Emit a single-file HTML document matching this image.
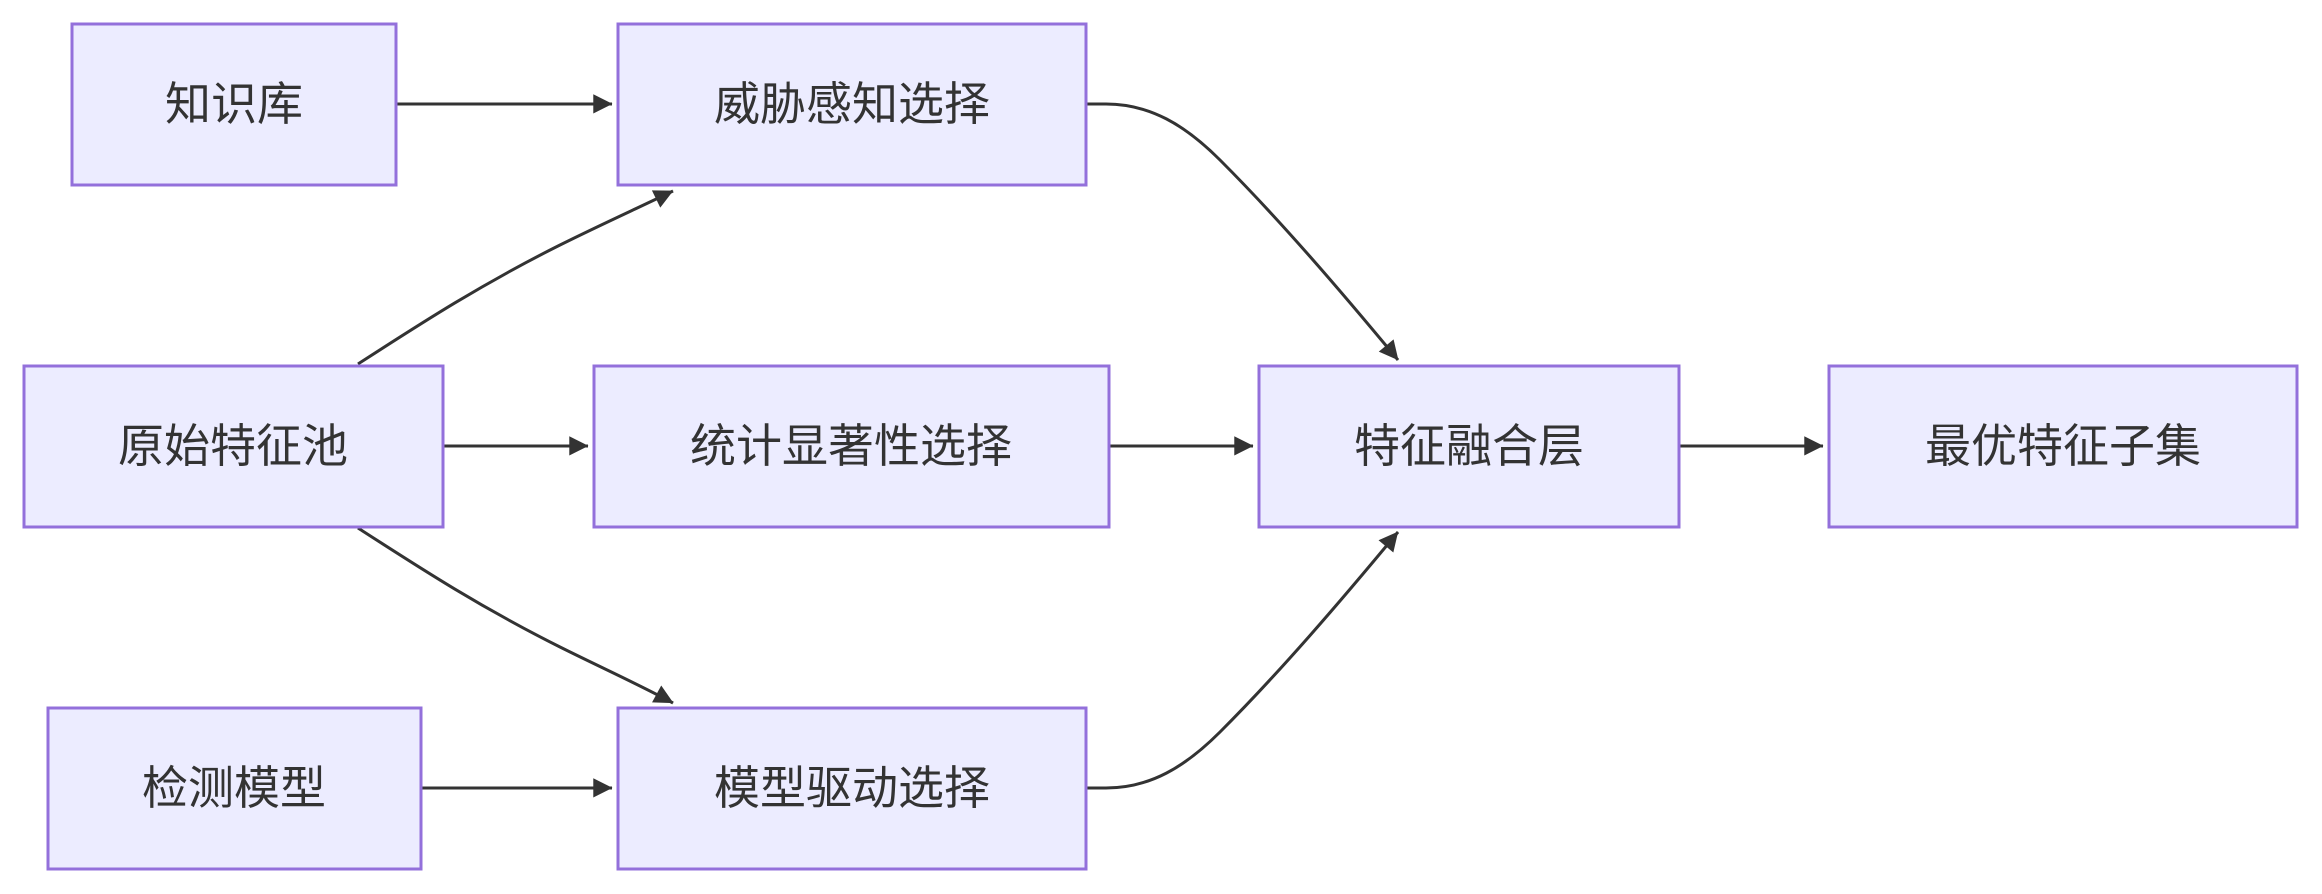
<!DOCTYPE html>
<html><head><meta charset="utf-8"><style>
html,body{margin:0;padding:0;background:#fff;width:2322px;height:894px;overflow:hidden}
text{font-family:"Liberation Sans","Noto Sans CJK SC",sans-serif;font-size:46px;fill:#333;text-anchor:middle;dominant-baseline:central}
rect{fill:#ECECFF;stroke:#9370DB;stroke-width:3}
path{fill:none;stroke:#333;stroke-width:3}
</style></head><body>
<svg width="2322" height="894" viewBox="0 0 2322 894" xmlns="http://www.w3.org/2000/svg">
<defs><marker id="a" viewBox="0 0 10 10" refX="9" refY="5" markerWidth="8" markerHeight="8" markerUnits="userSpaceOnUse" orient="auto" style="overflow:visible"><path d="M0,0 L10,5 L0,10 z" style="fill:#333;stroke:none" transform="scale(2.4) translate(-6,-3)"/></marker></defs>
<g>
<path d="M396,104 L612,104" marker-end="url(#a)"/>
<path d="M358,364 C420,324 480,285 560,245 C600,225 640,207 673,191" marker-end="url(#a)"/>
<path d="M443,446 L588,446" marker-end="url(#a)"/>
<path d="M358,528 C420,568 480,607 560,647 C600,667 640,685 673,703" marker-end="url(#a)"/>
<path d="M421,788 L612,788" marker-end="url(#a)"/>
<path d="M1086,104 L1106,104 C1150,104 1185,125 1220,160 C1280,220 1340,290 1398,360" marker-end="url(#a)"/>
<path d="M1109,446 L1253,446" marker-end="url(#a)"/>
<path d="M1086,788 L1106,788 C1150,788 1185,767 1220,732 C1280,672 1340,602 1398,532" marker-end="url(#a)"/>
<path d="M1679,446 L1823,446" marker-end="url(#a)"/>
</g>
<rect x="72" y="24" width="324" height="161"/><text x="234" y="104">知识库</text>
<rect x="618" y="24" width="468" height="161"/><text x="852" y="104">威胁感知选择</text>
<rect x="24" y="366" width="419" height="161"/><text x="233" y="446">原始特征池</text>
<rect x="594" y="366" width="515" height="161"/><text x="851" y="446">统计显著性选择</text>
<rect x="1259" y="366" width="420" height="161"/><text x="1469" y="446">特征融合层</text>
<rect x="1829" y="366" width="468" height="161"/><text x="2063" y="446">最优特征子集</text>
<rect x="48" y="708" width="373" height="161"/><text x="234" y="788">检测模型</text>
<rect x="618" y="708" width="468" height="161"/><text x="852" y="788">模型驱动选择</text>
</svg>
</body></html>
